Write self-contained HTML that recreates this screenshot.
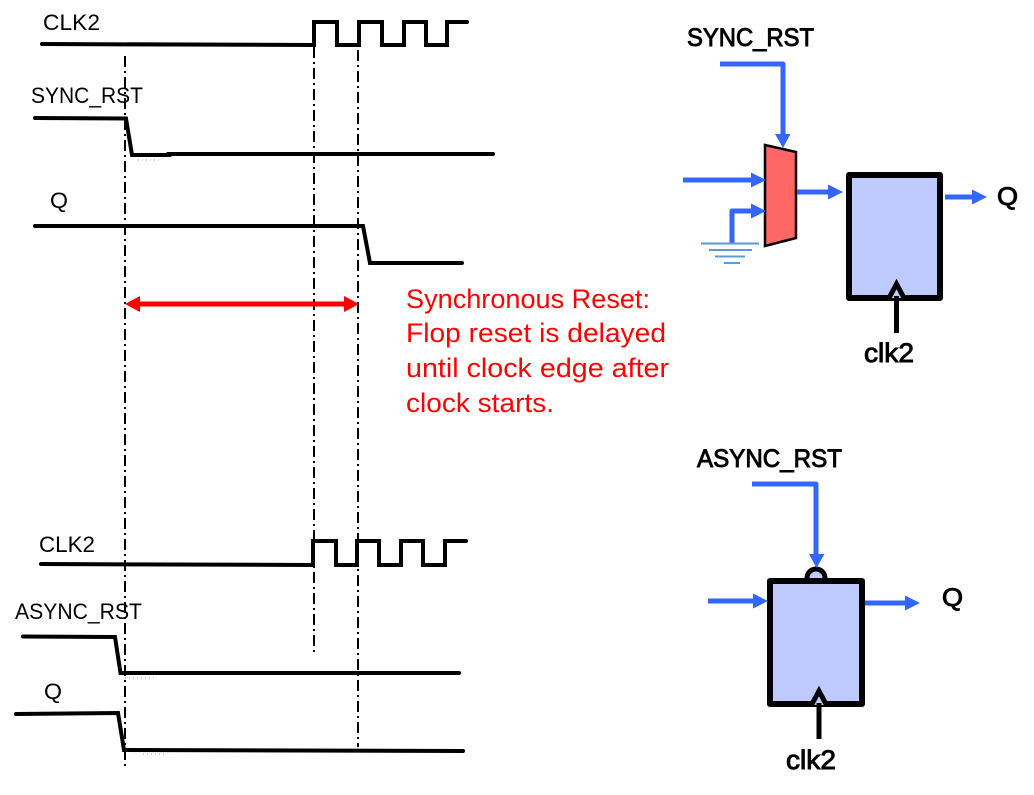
<!DOCTYPE html>
<html><head><meta charset="utf-8">
<style>
html,body{margin:0;padding:0;background:#fff;width:1034px;height:795px;overflow:hidden}
svg{display:block}
text{font-family:"Liberation Sans",sans-serif}
.w{fill:none;stroke:#000;stroke-width:4;stroke-linecap:round;stroke-linejoin:miter}
.d{fill:none;stroke:#000;stroke-width:2;stroke-dasharray:11 4 2 4}
.b{fill:none;stroke:#3366ff;stroke-width:5;stroke-linejoin:round}
.h{fill:#3366ff}
.l{font-size:22px;fill:#000}
.m{font-size:25px;fill:#000;stroke:#000;stroke-width:.9}
.r{font-size:27px;fill:#ff0000}
.g{stroke:#5b9bd5;stroke-width:2}
.f{fill:#bfcbff;stroke:#000;stroke-width:6;stroke-linejoin:round}
.t{fill:none;stroke:#aaa;stroke-width:1;stroke-dasharray:1 3}
</style></head>
<body>
<svg width="1034" height="795" viewBox="0 0 1034 795" xmlns="http://www.w3.org/2000/svg">
<!-- dash-dot guides -->
<path class="d" d="M125 56V768"/>
<path class="d" d="M314 47V655"/>
<path class="d" d="M358 50V747"/>

<!-- top waveforms -->
<path class="w" d="M42 44L314 45V22H337V45H359V22H382V45H404V22H426V45H447V22H467"/>
<path class="w" d="M35 118L126 118.500L132 155H170"/>
<path class="w" d="M168 154H493"/>
<path class="w" d="M35 226H363L370 263H462"/>
<path class="t" d="M138 160H160"/>

<!-- bottom waveforms -->
<path class="w" d="M41 564L313 565V541H336V565H357V541H379V565H401V541H423V565H445V541H466"/>
<path class="w" d="M23 636.500L115 637L120.500 673H459"/>
<path class="w" d="M16 714L118 713L124 750L463 751"/>
<path class="t" d="M125 678H155"/>
<path class="t" d="M143 754H165"/>

<!-- red span -->
<path d="M138 304H346" stroke="#ff0000" stroke-width="5" fill="none"/>
<path d="M125 304L140 296V312Z" fill="#ff0000"/>
<path d="M359 304L344 296V312Z" fill="#ff0000"/>

<!-- waveform labels -->
<text class="l" x="43" y="30" textLength="57" lengthAdjust="spacingAndGlyphs">CLK2</text>
<text class="l" x="31" y="103" textLength="112" lengthAdjust="spacingAndGlyphs">SYNC_RST</text>
<text class="l" x="50" y="208" textLength="18" lengthAdjust="spacingAndGlyphs">Q</text>
<text class="l" x="39" y="552" textLength="56" lengthAdjust="spacingAndGlyphs">CLK2</text>
<text class="l" x="15" y="619" textLength="127" lengthAdjust="spacingAndGlyphs">ASYNC_RST</text>
<text class="l" x="44" y="699" textLength="18" lengthAdjust="spacingAndGlyphs">Q</text>

<!-- red text -->
<text class="r" x="406" y="308" textLength="244" lengthAdjust="spacingAndGlyphs">Synchronous Reset:</text>
<text class="r" x="406" y="342" textLength="260" lengthAdjust="spacingAndGlyphs">Flop reset is delayed</text>
<text class="r" x="406" y="377" textLength="263" lengthAdjust="spacingAndGlyphs">until clock edge after</text>
<text class="r" x="406" y="412" textLength="148" lengthAdjust="spacingAndGlyphs">clock starts.</text>

<!-- sync flop -->
<text class="m" x="687" y="46" textLength="127" lengthAdjust="spacingAndGlyphs">SYNC_RST</text>
<path class="b" d="M720 64H783V136"/>
<path class="h" d="M775 134H790.500L783 148Z"/>
<path d="M765 145L796 152V238L765 246Z" fill="#ff6666" stroke="#000" stroke-width="2.500"/>
<path class="b" d="M683 180H753"/>
<path class="h" d="M751 172.500L766 180L751 187.500Z"/>
<path class="b" d="M732 243V211H753"/>
<path class="h" d="M751 203.500L766 211L751 218.500Z"/>
<path class="g" d="M701 243.500H759M709 250H752M715 256.500H745M724 263H740"/>
<path class="b" d="M797 192H830"/>
<path class="h" d="M828 184.500L843 192L828 199.500Z"/>
<rect class="f" x="849" y="175" width="91" height="123"/>
<path class="b" d="M945 197H974"/>
<path class="h" d="M972 189.500L987 197L972 204.500Z"/>
<path d="M889 298L896.500 284L904 298" fill="#bfcbff" stroke="#000" stroke-width="5"/>
<path d="M896.500 296V333" stroke="#000" stroke-width="5" fill="none"/>
<text class="m" x="997" y="205" textLength="21" lengthAdjust="spacingAndGlyphs">Q</text>
<text class="m" x="864" y="362" textLength="50" lengthAdjust="spacingAndGlyphs" style="font-size:27px">clk2</text>

<!-- async flop -->
<text class="m" x="697" y="467" textLength="145" lengthAdjust="spacingAndGlyphs">ASYNC_RST</text>
<path class="b" d="M752 484H816V556"/>
<circle cx="816" cy="578" r="9" fill="#bfcbff" stroke="#000" stroke-width="5"/>
<rect class="f" x="770" y="581" width="92" height="123"/>
<path class="h" d="M809 554H824.500L816.500 568Z"/>
<path class="b" d="M708 601H755"/>
<path class="h" d="M753 593.500L768 601L753 608.500Z"/>
<path class="b" d="M865 603H907"/>
<path class="h" d="M905 595.500L920 603L905 610.500Z"/>
<path d="M811.500 705L819 691L826.500 705" fill="#bfcbff" stroke="#000" stroke-width="5"/>
<path d="M819 703V739" stroke="#000" stroke-width="5" fill="none"/>
<text class="m" x="942" y="606" textLength="21" lengthAdjust="spacingAndGlyphs">Q</text>
<text class="m" x="786" y="769" textLength="50" lengthAdjust="spacingAndGlyphs" style="font-size:27px">clk2</text>
</svg>
</body></html>
